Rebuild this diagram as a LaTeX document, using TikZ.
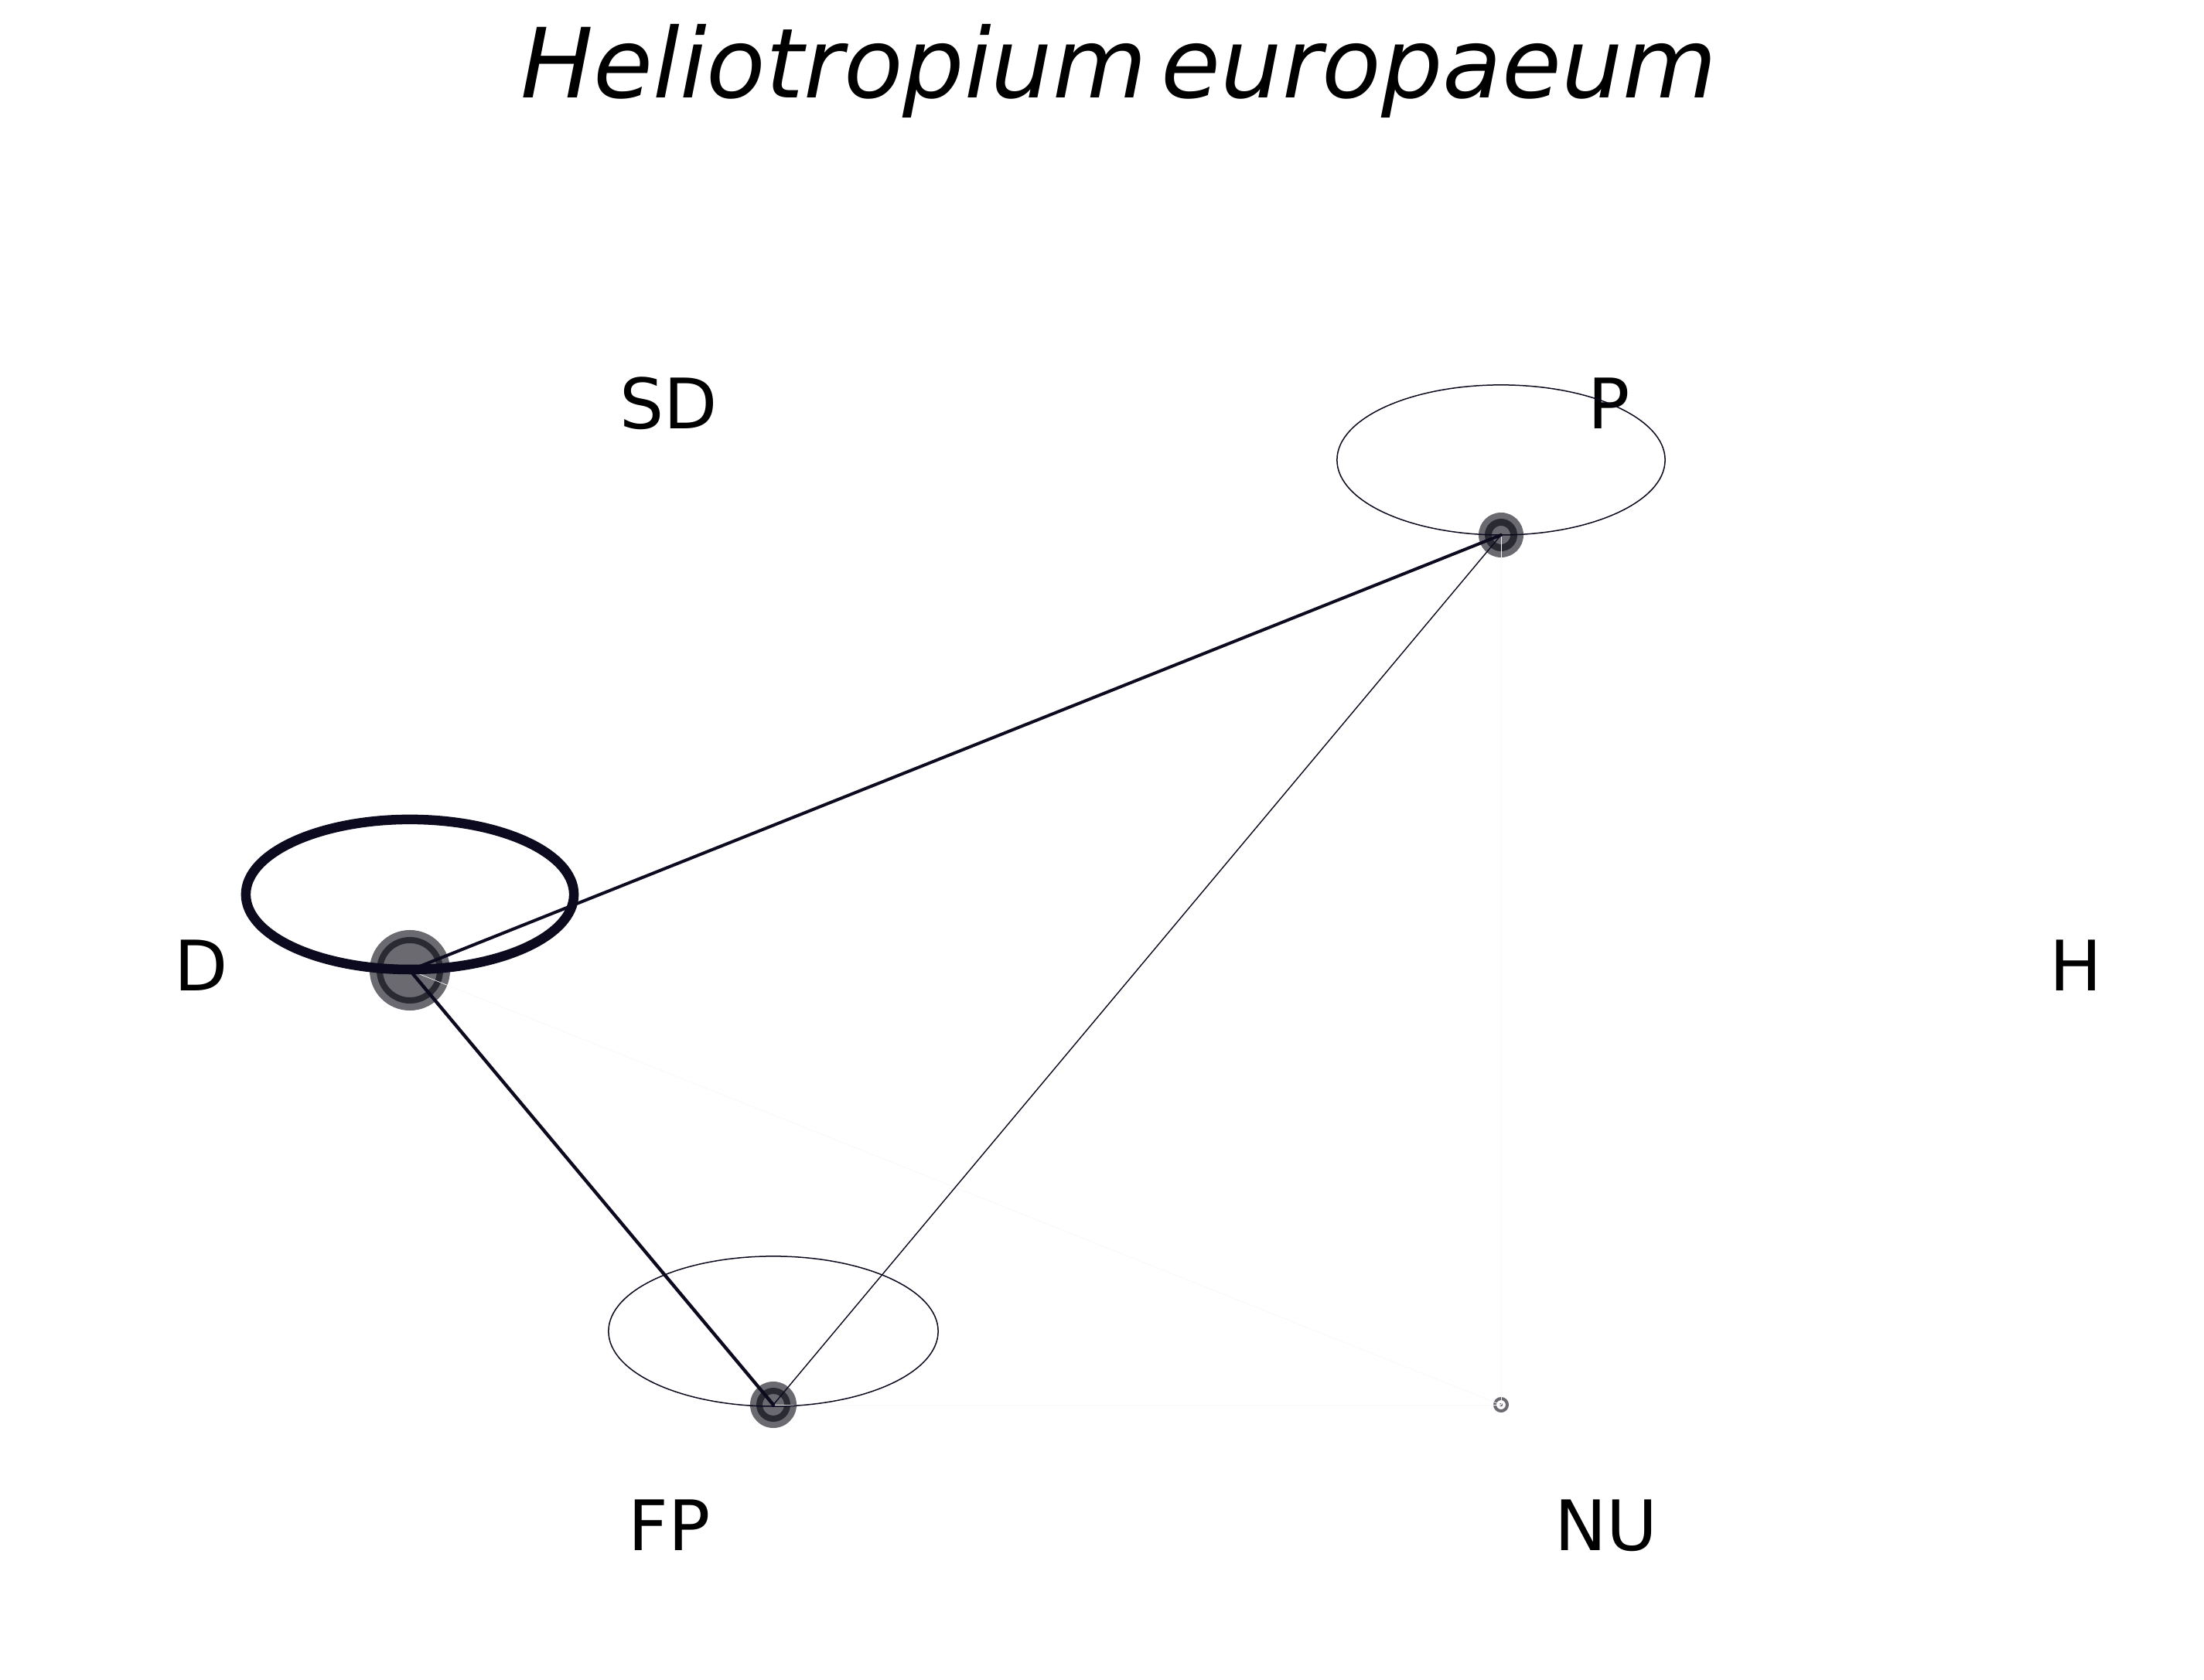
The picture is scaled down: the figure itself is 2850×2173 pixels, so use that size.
\documentclass[tikz,border=0pt]{standalone}
\usepackage{fontspec}
\setmainfont{DejaVu Sans}
\begin{document}
\begin{tikzpicture}[x=0.01cm,y=-0.01cm,
  lbl/.style={anchor=base,inner sep=0pt,font=\fontsize{25.6pt}{30pt}\selectfont},
  nodefill/.style={fill=nodegray},
  ringline/.style={draw=ringdark},
  edgeline/.style={draw=edgenavy,line cap=round},
  faintedge/.style={draw=black!3,line width=0.2pt},
  loopline/.style={draw=edgenavy}]
\definecolor{nodegray}{HTML}{6A6A70}
\definecolor{ringdark}{HTML}{2A2A33}
\definecolor{edgenavy}{HTML}{0C0A1E}
\useasboundingbox (0,0) rectangle (2850,2173);

% title
\node (title) [anchor=base,inner sep=0pt,font=\fontsize{35.6pt}{42pt}\selectfont\itshape]
  at (1447,127) {Heliotropium\hspace{0.15em}europaeum};

% category positions
\coordinate (nD) at (530,1255);
\coordinate (nP) at (1941,692);
\coordinate (nFP) at (1000,1817);
\coordinate (nNU) at (1941,1817);

% labels
\node (lSD) [lbl] at (865,555) {SD};
\node (lP) [lbl] at (2081,555) {P};
\node (lD) [lbl] at (260,1281) {D};
\node (lH) [lbl] at (2684,1281) {H};
\node (lFP) [lbl] at (866,2005) {FP};
\node (lNU) [lbl] at (2077,2005) {NU};

% nodes
\fill[nodefill] (nD) circle [radius=0.52cm];
\draw[ringline,line width=0.08cm] (nD) circle [radius=0.39cm];
\fill[nodefill] (nP) circle [radius=0.29cm];
\draw[ringline,line width=0.09cm] (nP) circle [radius=0.165cm];
\fill[nodefill] (nFP) circle [radius=0.30cm];
\draw[ringline,line width=0.08cm] (nFP) circle [radius=0.18cm];
\draw[draw=nodegray,line width=0.04cm] (nNU) circle [radius=0.08cm];
\fill[nodegray] (nNU) circle [radius=0.022cm];

% faint transitions
\draw[faintedge] (nD) -- (nNU);
\draw[faintedge,draw=black!2] (nFP) -- (nNU);
\draw[faintedge,draw=black!2] (nP) -- (nNU);

% transitions
\draw[edgeline,line width=0.04cm] (nD) -- (nP);
\draw[edgeline,line width=0.043cm] (nD) -- (nFP);
\draw[edgeline,line width=0.014cm] (nP) -- (nFP);

% self loops
\draw[loopline,line width=0.125cm] ([yshift=0.98cm]nD) ellipse [x radius=2.12cm, y radius=0.97cm];
\draw[loopline,line width=0.015cm] ([yshift=0.97cm]nP) ellipse [x radius=2.12cm, y radius=0.97cm];
\draw[loopline,line width=0.015cm] ([yshift=0.95cm]nFP) ellipse [x radius=2.13cm, y radius=0.97cm];
\end{tikzpicture}
\end{document}
